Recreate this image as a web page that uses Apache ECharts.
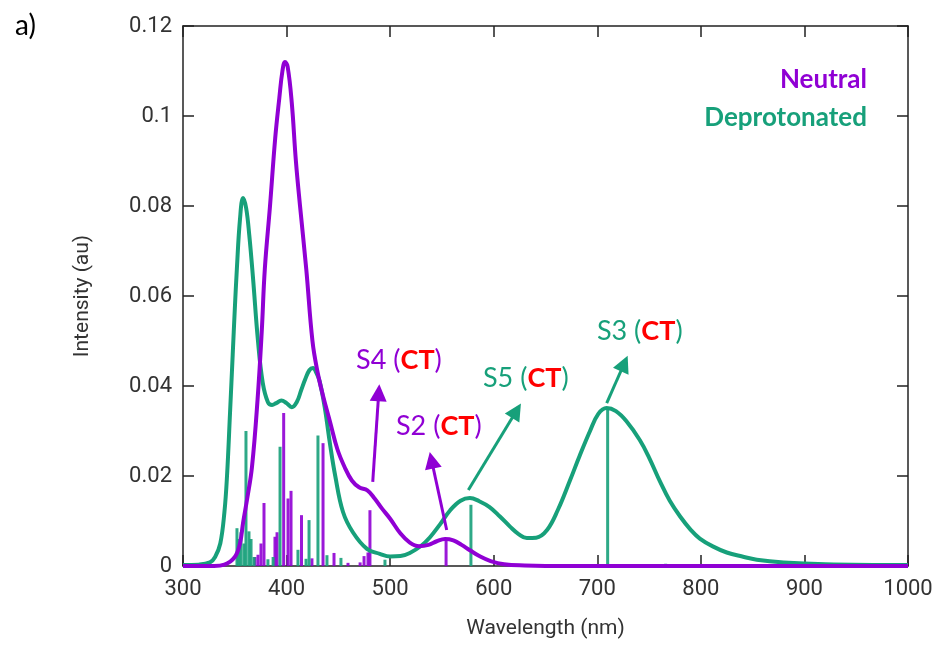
<!DOCTYPE html>
<html>
<head>
<meta charset="utf-8">
<script src="https://cdn.jsdelivr.net/npm/echarts@6/dist/echarts.min.js"></script>
<style>html,body{margin:0;padding:0;background:#fff}#c{width:940px;height:651px}</style>
</head>
<body>
<div id="c"></div>
<script>
// ---- Data ----
const neutralWl  = [300,330,340,350,355,358,362,366.6,372,376,379,384,389,393,396,398.5,401,405,409,413,419,425,430,435,442,449,456,463,470,478,485,492,500,510,519,528,537,545,553,561,569,577,587,597,610,630,650,1000];
const neutralInt = [0,0,0.0003,0.002,0.005,0.0096,0.015,0.022,0.037,0.052,0.066,0.08,0.095,0.104,0.11,0.112,0.111,0.103,0.09,0.08,0.066,0.05,0.043,0.038,0.032,0.026,0.022,0.019,0.0175,0.0168,0.015,0.0128,0.0105,0.0072,0.0052,0.0044,0.0047,0.0055,0.006,0.0057,0.0047,0.0035,0.0021,0.0011,0.0004,0.0001,0,0];

const deprotWl  = [300,315,326,331,336,340,342.5,345.4,348,350,352,355,358,361,364,367.6,372.4,377,382,386,390,395,400,405,410,414,418,422,425.5,429,432,437,442,447,454.5,464,477.6,490,500,510,519,530,538.5,548,558,568,577,586,596,606,616,624,632,641,651.5,662,673.6,683,693,701,709,718,728,741,750,760.5,770,780,790,799,812,825,840,854,880,920,1000];
const deprotInt = [0.0002,0.0003,0.0008,0.002,0.005,0.012,0.02,0.034,0.047,0.057,0.066,0.077,0.0818,0.0795,0.0735,0.064,0.05,0.0407,0.0364,0.0358,0.0362,0.0368,0.0362,0.0353,0.0365,0.039,0.0415,0.0435,0.044,0.0428,0.041,0.035,0.027,0.02,0.012,0.0075,0.0038,0.0027,0.0021,0.0022,0.0029,0.0045,0.0064,0.0092,0.0124,0.0145,0.0151,0.0144,0.0131,0.011,0.0087,0.0071,0.0062,0.0063,0.008,0.0125,0.019,0.0245,0.03,0.0338,0.0351,0.0344,0.0322,0.028,0.0241,0.0188,0.0145,0.011,0.0081,0.0061,0.0043,0.003,0.0021,0.0014,0.0008,0.0004,0.0002];

const neutralStickWl  = [369.5,372.4,375.3,378.2,388.8,390.8,397.2,401.4,404.3,414.4,424.5,435.2,445.8,459.3,471,474.8,478.6,480.5,554];
const neutralStickInt = [0.002,0.0025,0.005,0.014,0.0065,0.0075,0.034,0.015,0.0167,0.0113,0.0017,0.0273,0.0029,0.0007,0.0008,0.0022,0.003,0.0124,0.0058];

const deprotStickWl  = [352.1,354,356,358.9,360.8,363.7,365.7,368.6,382,387,393.7,411,418.8,421.7,430.3,439,452.5,495,578,710,766,854];
const deprotStickInt = [0.0084,0.006,0.0075,0.005,0.030,0.0077,0.006,0.002,0.0015,0.002,0.0265,0.0036,0.0016,0.0102,0.029,0.0024,0.0018,0.0014,0.0136,0.035,0.0005,0.0004];

const xTicks = [300,1000,100];       // min, max, interval
const yTicks = [0,0.12,0.02];

// annotations: state name, label position, arrow tail, arrow tip
const neutralAnnNames = ['S4','S2'];
const neutralAnnLabel = [[508.5,0.0457],[547,0.0311]];
const neutralAnnTail  = [[483.2,0.0187],[554.6,0.0080]];
const neutralAnnTip   = [[489.0,0.0385],[540.0,0.0235]];

const deprotAnnNames = ['S5','S3'];
const deprotAnnLabel = [[631,0.0418],[741,0.0522]];
const deprotAnnTail  = [[575.5,0.0169],[709.1,0.0362]];
const deprotAnnTip   = [[622.0,0.0345],[726,0.0450]];

const legendNames = ['Neutral','Deprotonated'];

// ---- Styles ----
const PURPLE = '#9000d4';
const GREEN = '#17a07a';
const RED = '#ff0000';

const zip = (a,b) => a.map((v,i)=>[v,b[i]]);

function annMarkPoint(names, pos, color){
  return {
    symbol: 'circle', symbolSize: 0, silent: true, animation:false,
    label: {
      show: true, position: 'inside',
      formatter: p => '{n|' + p.name + ' (}{ct|CT}{n|)}',
      rich: {
        n: {color: color, fontSize: 27, fontFamily: 'Lato'},
        ct: {color: RED, fontSize: 27, fontWeight: 'bold', fontFamily: 'Lato'}
      }
    },
    data: names.map((nm,i)=>({name: nm, coord: pos[i]}))
  };
}
function annMarkLine(tail, tip, color){
  return {
    silent: true, animation: false,
    symbol: ['none','triangle'], symbolSize: 17,
    lineStyle: {color: color, width: 3, type: 'solid'},
    itemStyle: {color: color},
    label: {show:false},
    data: tail.map((t,i)=>[{coord:t},{coord:tip[i]}])
  };
}

const axisCommon = {
  type: 'value',
  axisLine: {show: true, onZero:false, lineStyle: {color: '#222', width: 1.5}},
  axisTick: {show: true, inside: true, length: 11, lineStyle: {color: '#222', width: 1.5}},
  splitLine: {show: false}
};

const chart = echarts.init(document.getElementById('c'), null, {renderer:'canvas'});
chart.setOption({
  animation: false,
  backgroundColor: '#fff',
  grid: {left: 183, right: 32, top: 26, bottom: 85, containLabel: false},
  xAxis: [
    Object.assign({}, axisCommon, {
      position: 'bottom', min: xTicks[0], max: xTicks[1], interval: xTicks[2],
      axisLabel: {fontSize: 22, color: '#333', fontFamily: 'Roboto', margin: 12, formatter: v => String(v)},
      name: 'Wavelength (nm)', nameLocation: 'middle', nameGap: 52,
      nameTextStyle: {fontSize: 21, color: '#333', fontFamily: 'Roboto'}
    }),
    Object.assign({}, axisCommon, {
      position: 'top', min: xTicks[0], max: xTicks[1], interval: xTicks[2],
      axisLabel: {show: false}
    })
  ],
  yAxis: [
    Object.assign({}, axisCommon, {
      position: 'left', min: yTicks[0], max: yTicks[1], interval: yTicks[2],
      axisLabel: {fontSize: 22, color: '#333', fontFamily: 'Roboto', margin: 11},
      name: 'Intensity (au)', nameLocation: 'middle', nameGap: 90,
      nameTextStyle: {fontSize: 21, color: '#333', fontFamily: 'Roboto'}
    }),
    Object.assign({}, axisCommon, {
      position: 'right', min: yTicks[0], max: yTicks[1], interval: yTicks[2],
      axisLabel: {show: false}
    })
  ],
  series: [
    {
      name: 'Neutral', type: 'bar', xAxisIndex: 0, yAxisIndex: 0,
      barWidth: 3, barGap: '-100%', z: 1,
      itemStyle: {color: PURPLE, opacity: 0.9},
      data: zip(neutralStickWl, neutralStickInt)
    },
    {
      name: 'Deprotonated', type: 'bar', xAxisIndex: 0, yAxisIndex: 0,
      barWidth: 3, barGap: '-100%', z: 2,
      itemStyle: {color: GREEN, opacity: 0.9},
      data: zip(deprotStickWl, deprotStickInt)
    },
    {
      name: 'Deprotonated', type: 'line', xAxisIndex: 0, yAxisIndex: 0,
      showSymbol: false, smooth: 0.4, z: 3,
      lineStyle: {color: GREEN, width: 4},
      itemStyle: {color: GREEN},
      data: zip(deprotWl, deprotInt),
      markLine: annMarkLine(deprotAnnTail, deprotAnnTip, GREEN),
      markPoint: annMarkPoint(deprotAnnNames, deprotAnnLabel, GREEN)
    },
    {
      name: 'Neutral', type: 'line', xAxisIndex: 0, yAxisIndex: 0,
      showSymbol: false, smooth: 0.4, z: 4,
      lineStyle: {color: PURPLE, width: 4},
      itemStyle: {color: PURPLE},
      data: zip(neutralWl, neutralInt),
      markLine: annMarkLine(neutralAnnTail, neutralAnnTip, PURPLE),
      markPoint: annMarkPoint(neutralAnnNames, neutralAnnLabel, PURPLE)
    }
  ],
  graphic: [
    {type:'text', left: 15, top: 12, style:{text:'a)', font:'28px Lato', fill:'#000'}},
    {type:'text', right: 73, top: 67, style:{text: legendNames[0], font:'bold 26px Lato', fill: PURPLE}},
    {type:'text', right: 73, top: 105, style:{text: legendNames[1], font:'bold 26px Lato', fill: GREEN}}
  ]
});
</script>
</body>
</html>
